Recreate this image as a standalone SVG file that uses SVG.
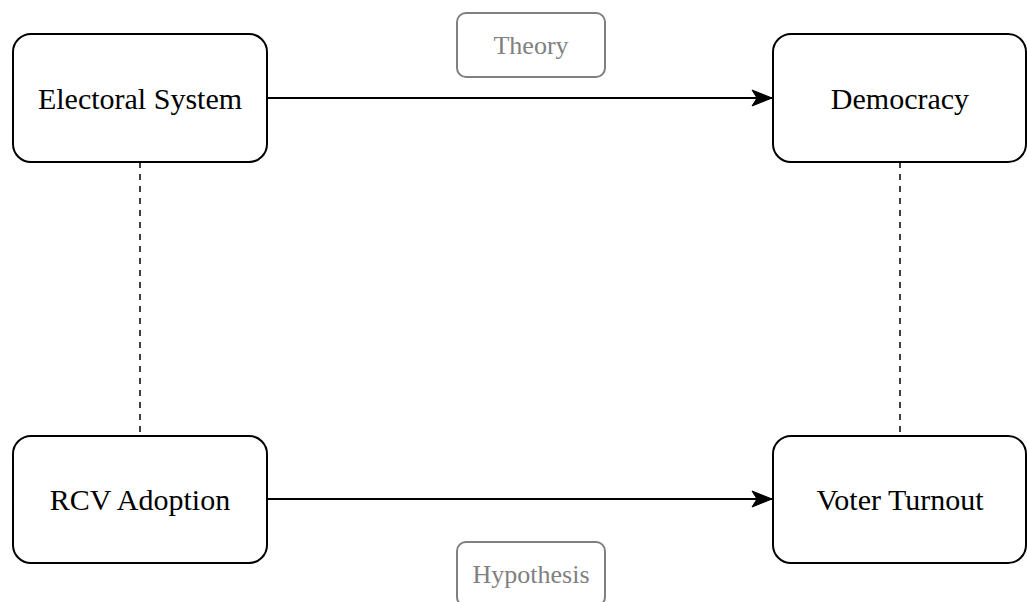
<svg xmlns="http://www.w3.org/2000/svg" width="1027" height="602" viewBox="0 0 1027 602">
<style>
.box{fill:#fff;stroke:#000;stroke-width:2}
.lbl{fill:#fff;stroke:#808080;stroke-width:2}
.t{font-family:"Liberation Serif",serif;font-size:30px;fill:#000;text-anchor:middle;dominant-baseline:central}
.g{font-family:"Liberation Serif",serif;font-size:26px;fill:#808080;text-anchor:middle;dominant-baseline:central}
.c{stroke:#000;stroke-width:2;fill:none}
.d{stroke:#000;stroke-width:1.5;fill:none;stroke-dasharray:6 6}
</style>
<defs>
<marker id="arr" markerUnits="userSpaceOnUse" markerWidth="22" markerHeight="22" viewBox="0 0 22 22" refX="21" refY="11" orient="auto">
<path d="M1,3 L21,11 L1,19 L6,11 Z" fill="#000" stroke="#000" stroke-width="1"/>
</marker>
</defs>
<g id="connectors">
<line class="c" x1="267" y1="98" x2="772" y2="98" marker-end="url(#arr)"/>
<line class="c" x1="267" y1="499" x2="772" y2="499" marker-end="url(#arr)"/>
<line class="d" x1="140" y1="162" x2="140" y2="436"/>
<line class="d" x1="900" y1="162" x2="900" y2="436"/>
</g>
<g id="electoral-system">
<rect class="box" x="13" y="34" width="254" height="128" rx="18"/>
<text class="t" x="140" y="98">Electoral System</text>
</g>
<g id="democracy">
<rect class="box" x="773" y="34" width="253" height="128" rx="18"/>
<text class="t" x="900" y="98">Democracy</text>
</g>
<g id="rcv-adoption">
<rect class="box" x="13" y="436" width="254" height="127" rx="18"/>
<text class="t" x="140" y="499">RCV Adoption</text>
</g>
<g id="voter-turnout">
<rect class="box" x="773" y="436" width="253" height="127" rx="18"/>
<text class="t" x="900" y="499">Voter Turnout</text>
</g>
<g id="theory">
<rect class="lbl" x="457" y="13" width="148" height="64" rx="9"/>
<text class="g" x="531" y="45">Theory</text>
</g>
<g id="hypothesis">
<rect class="lbl" x="457" y="542" width="148" height="64" rx="9"/>
<text class="g" x="531" y="574">Hypothesis</text>
</g>
</svg>
